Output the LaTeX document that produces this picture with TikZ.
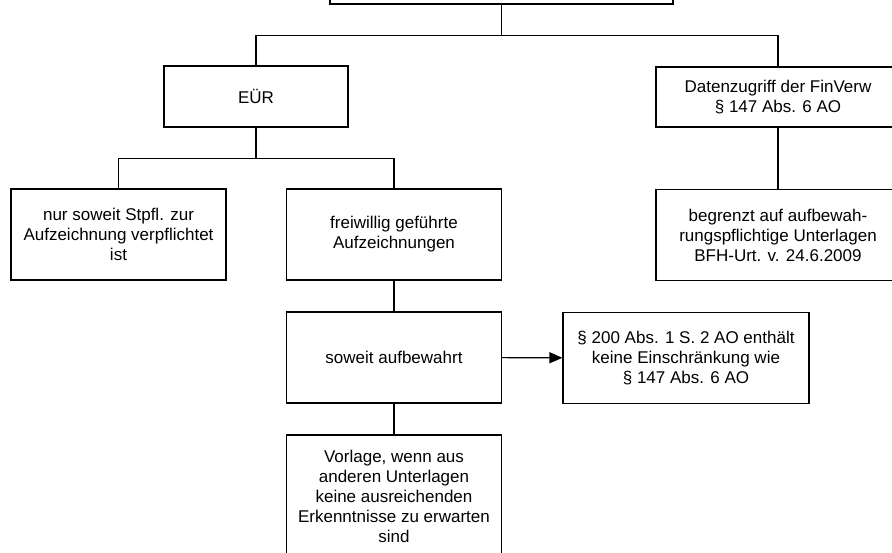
\documentclass[tikz,border=0pt]{standalone}
\usepackage{fontspec}
\setmainfont{Liberation Sans}
\usetikzlibrary{positioning,arrows.meta}

\begin{document}
\begin{tikzpicture}[
    x=1pt, y=-1pt,
    box/.style={rectangle, draw, line width=1.1pt, align=center, inner sep=2pt,
      minimum width=215pt, minimum height=91pt, font=\fontsize{17}{20}\selectfont},
    link/.style={draw, line width=1.1pt},
    arrow/.style={link, -{Triangle[length=13pt,width=11pt]}}
  ]
\useasboundingbox (0,0) rectangle (892,552);
\clip (0,0) rectangle (892,552);

% upper levels
\node[box, minimum width=343pt, minimum height=60pt] (top) at (501.5,-26) {};
\node[box, minimum width=184pt, minimum height=61pt] (eur) at (256,96.5) {EÜR};
\node[box, minimum width=244pt, minimum height=60pt] (dzg) at (778,97) {Datenzugriff der FinVerw\\ § 147 Abs. 6 AO};

% left branch
\node[box] (nur) at (118.5,234.5) {nur soweit Stpfl. zur\\ Aufzeichnung verpflichtet\\ ist};
\node[box] (frei) at (394,234.5) {freiwillig geführte\\ Aufzeichnungen};
\node[box] (soweit) at (394,357.5) {soweit aufbewahrt};
\node[box, minimum height=122pt] (vorlage) at (394,496) {Vorlage, wenn aus\\ anderen Unterlagen\\ keine ausreichenden\\ Erkenntnisse zu erwarten\\ sind};
\node[box, minimum width=246pt] (abs200) at (686,358) {§ 200 Abs. 1 S. 2 AO enthält\\ keine Einschränkung wie\\ § 147 Abs. 6 AO};

% right branch
\node[box, minimum width=244pt] (begr) at (778,235) {begrenzt auf aufbewah-\\ rungspflichtige Unterlagen\\ BFH-Urt. v. 24.6.2009};

% connectors
\draw[link] (top.south) -- ++(0,31) -| (eur.north);
\draw[link] (top.south) -- ++(0,31) -| (dzg.north);
\draw[link] (eur.south) -- ++(0,31) -| (nur.north);
\draw[link] (eur.south) -- ++(0,31) -| (frei.north);
\draw[link] (frei) -- (soweit);
\draw[link] (soweit) -- (vorlage);
\draw[link] (dzg) -- (begr);
\draw[arrow] (soweit) -- (abs200);

\end{tikzpicture}
\end{document}
